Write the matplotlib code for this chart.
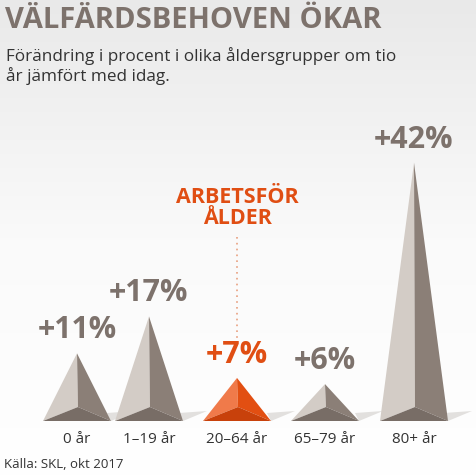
import matplotlib
matplotlib.use("Agg")
import matplotlib.pyplot as plt
import numpy as np
from matplotlib.patches import Polygon
from matplotlib.colors import LinearSegmentedColormap

categories = ["0 år", "1–19 år", "20–64 år", "65–79 år", "80+ år"]
values = [11, 17, 7, 6, 42]
labels = ["+11%", "+17%", "+7%", "+6%", "+42%"]
highlight = [False, False, True, False, False]

plt.rcParams['font.family'] = ['Open Sans', 'DejaVu Sans']
fig = plt.figure(figsize=(4.77, 4.77), dpi=100)
ax = fig.add_axes([0, 0, 1, 1])
ax.set_xlim(0, 477)
ax.set_ylim(477, 0)
ax.axis('off')

grad = np.linspace(0, 1, 256).reshape(-1, 1)
cm = LinearSegmentedColormap.from_list("bg", ["#e9e9e9", "#fafafa", "#ffffff"])
ax.imshow(grad, extent=[0, 477, 477, 0], cmap=cm, aspect='auto', zorder=0)

base = 422
scale = 6.15
centers = [77, 149, 237, 325, 414]
half = 34
grey_c = "#7d726c"
orange_c = "#e04e13"
for xc, v, lab, hl, cat in zip(centers, values, labels, highlight, categories):
    top = base - v * scale
    x0, x1 = xc - half, xc + half
    inner = (xc + 1, base - 14)
    if hl:
        cl, cr, cb = "#f07a4a", "#e24f12", "#c8410b"
    else:
        cl, cr, cb = "#d3ccc6", "#8b7f77", "#786d66"
    ax.add_patch(Polygon([(x1, base), (x1 + 24, base - 10), (x1 - 4, base - 8)], closed=True, color="#e2e0de", lw=0, zorder=1))
    ax.add_patch(Polygon([(x0, base), (xc, top), inner], closed=True, color=cl, lw=0, zorder=2))
    ax.add_patch(Polygon([(xc, top), (x1, base), inner], closed=True, color=cr, lw=0, zorder=2))
    ax.add_patch(Polygon([(x0, base), inner, (x1, base)], closed=True, color=cb, lw=0, zorder=3))
    ax.text(xc, top - 9, lab, ha='center', va='bottom', fontsize=22, fontweight='bold',
            color=orange_c if hl else grey_c, zorder=4)
    ax.text(xc, 440, cat, ha='center', va='center', fontsize=11, color="#333333", zorder=4)

ax.plot([237, 237], [238, 340], ls=(0, (1, 2.5)), color="#e8a080", lw=1.2, zorder=2)
ax.text(237, 208, "ARBETSFÖR\nÅLDER", ha='center', va='center', fontsize=15.5, fontweight='bold',
        color=orange_c, linespacing=1.05, zorder=4)

ax.text(5, 20, "VÄLFÄRDSBEHOVEN ÖKAR", ha='left', va='center', fontsize=21, fontweight='bold', color=grey_c)
ax.text(6, 66, "Förändring i procent i olika åldersgrupper om tio\når jämfört med idag.", ha='left', va='center',
        fontsize=12.3, color="#333333", linespacing=1.1)
ax.text(4, 465, "Källa: SKL, okt 2017", ha='left', va='center', fontsize=9.5, color="#333333")

fig.savefig("out.png", dpi=100)
